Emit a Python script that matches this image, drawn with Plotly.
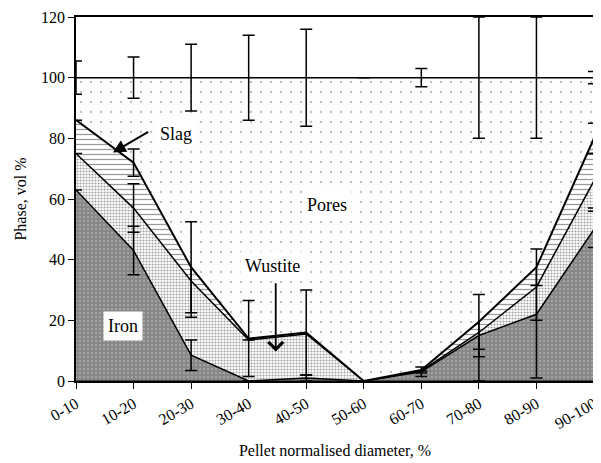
import plotly.graph_objects as go

# Pellet cross-section phases (vol %)
categories = ['0-10', '10-20', '20-30', '30-40', '40-50', '50-60',
              '60-70', '70-80', '80-90', '90-100']
iron = [63, 43, 8.5, 0, 1, 0, 3, 15, 22, 50]
wustite = [12, 14, 24.5, 13.5, 14.5, 0, 0.3, 1, 9, 16]
slag = [11, 15, 4.5, 0.5, 0.5, 0, 0.3, 3.5, 6.5, 14]
total = [100] * 10

# error bars at each cumulative boundary
iron_err = [0, 8, 5, 0, 1, 0, 1.5, 15, 21, 6]
wustite_err = [0, 8, 12, 0, 0, 0, 0, 8, 11, 9]
slag_err = [0, 4.5, 15, 12.5, 14, 0, 1, 9, 6, 5]
pores_err = [5.5, 6.8, 11, 14, 16, 0, 3, 20, 20, 2]

FONT = 'Times New Roman, Liberation Serif, DejaVu Serif, serif'

# cumulative boundaries
iron_top = list(iron)
wustite_top = [a + b for a, b in zip(iron_top, wustite)]
slag_top = [a + b for a, b in zip(wustite_top, slag)]


def err(vals):
    return dict(type='data', array=vals, visible=True, color='black',
                thickness=1.5, width=6)


fig = go.Figure()

fig.add_trace(go.Scatter(
    x=categories, y=[0] * 10, mode='lines', line=dict(color='black', width=1),
    showlegend=False, hoverinfo='skip'))

fig.add_trace(go.Scatter(
    x=categories, y=iron_top, mode='lines', fill='tonexty',
    line=dict(color='black', width=1.5),
    fillpattern=dict(shape='.', size=4, solidity=0.85, fgcolor='#111111', bgcolor='white'),
    error_y=err(iron_err), showlegend=False, name='Iron'))

fig.add_trace(go.Scatter(
    x=categories, y=wustite_top, mode='lines', fill='tonexty',
    line=dict(color='black', width=1.5),
    fillpattern=dict(shape='.', size=3, solidity=0.4, fgcolor='#444444', bgcolor='white'),
    error_y=err(wustite_err), showlegend=False, name='Wustite'))

fig.add_trace(go.Scatter(
    x=categories, y=slag_top, mode='lines', fill='tonexty',
    line=dict(color='black', width=2),
    fillpattern=dict(shape='-', size=5, solidity=0.25, fgcolor='#333333', bgcolor='white'),
    error_y=err(slag_err), showlegend=False, name='Slag'))

fig.add_trace(go.Scatter(
    x=categories, y=total, mode='lines', fill='tonexty',
    line=dict(color='black', width=1.5),
    fillpattern=dict(shape='.', size=10, solidity=0.04, fgcolor='#777777', bgcolor='#fdfdfd'),
    error_y=err(pores_err), showlegend=False, name='Pores'))

# phase labels
label_font = dict(family=FONT, size=18, color='black')
for txt, xx, yy in [('Slag', 1.73, 81.5), ('Pores', 4.36, 58),
                    ('Wustite', 3.41, 38), ('Iron', 0.81, 18)]:
    fig.add_annotation(x=xx, y=yy, text=txt, showarrow=False, font=label_font,
                       bgcolor='white', borderpad=4)

# arrows
fig.add_annotation(x=0.64, y=75.3, ax=1.28, ay=82.4, axref='x', ayref='y',
                   text='', showarrow=True, arrowhead=2, arrowsize=1.3,
                   arrowwidth=2, arrowcolor='black')
fig.add_annotation(x=3.47, y=9.7, ax=3.47, ay=32.7, axref='x', ayref='y',
                   text='', showarrow=True, arrowhead=4, arrowsize=1.6,
                   arrowwidth=1.8, arrowcolor='black')

# the page body adds an 8px offset, so the figure is a little smaller than the window
fig.update_layout(
    width=593, height=455,
    margin=dict(l=68, r=1, t=9, b=82),
    paper_bgcolor='white', plot_bgcolor='white',
    font=dict(family=FONT, size=16, color='black'),
    xaxis=dict(type='category', range=[0, 9], showgrid=False, zeroline=False,
               showline=True, linecolor='black', linewidth=1.5, mirror=True,
               ticks='outside', ticklen=6, tickcolor='black', tickangle=-30,
               tickfont=dict(size=16),
               title=dict(text='Pellet normalised diameter, %', font=dict(size=16), standoff=14)),
    yaxis=dict(range=[0, 120], dtick=20, showgrid=False, zeroline=False,
               showline=True, linecolor='black', linewidth=1.5, mirror=True,
               ticks='outside', ticklen=6, tickcolor='black',
               tickfont=dict(size=16),
               title=dict(text='Phase, vol %', font=dict(size=16), standoff=10)),
)

fig.write_html('out.html')
